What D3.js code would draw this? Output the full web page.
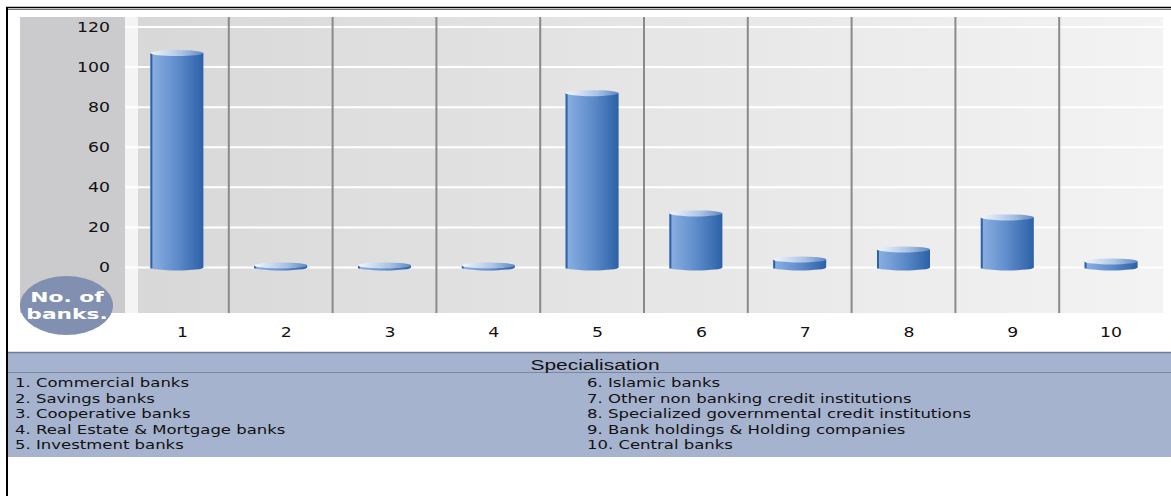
<!DOCTYPE html>
<html><head><meta charset="utf-8">
<script src="https://cdn.jsdelivr.net/npm/d3@7"></script>
<style>html,body{margin:0;padding:0;background:#fff;overflow:hidden}</style>
</head><body><div id="chart"></div>
<script>
const categories = ["1","2","3","4","5","6","7","8","9","10"];
const values = [107, 1, 1, 1, 87, 27, 4, 9, 25, 3];
const yTicks = [0, 20, 40, 60, 80, 100, 120];
const legendTitle = "Specialisation";
const legendLeft = ["1. Commercial banks","2. Savings banks","3. Cooperative banks","4. Real Estate & Mortgage banks","5. Investment banks"];
const legendRight = ["6. Islamic banks","7. Other non banking credit institutions","8. Specialized governmental credit institutions","9. Bank holdings & Holding companies","10. Central banks"];
const axisBadge = ["No. of","banks."];

(function(){
const W = 1171, H = 496;
const svg = d3.select("#chart").append("svg").attr("width", W).attr("height", H)
  .style("font-family", "'DejaVu Sans', Verdana, sans-serif");
svg.append("rect").attr("width", W).attr("height", H).attr("fill", "#fff");
const defs = svg.append("defs");

const bg = defs.append("linearGradient").attr("id","bg").attr("x1","0").attr("x2","1").attr("y1","0").attr("y2","0");
bg.append("stop").attr("offset","0").attr("stop-color","#d8d8d8");
bg.append("stop").attr("offset","1").attr("stop-color","#f3f3f3");
const bodyG = defs.append("linearGradient").attr("id","bodyG").attr("x1","0").attr("x2","1").attr("y1","0").attr("y2","0");
bodyG.append("stop").attr("offset","0").attr("stop-color","#8cb1e2");
bodyG.append("stop").attr("offset","0.5").attr("stop-color","#5f8ccb");
bodyG.append("stop").attr("offset","1").attr("stop-color","#2c61a7");
const topG = defs.append("linearGradient").attr("id","topG").attr("x1","0").attr("x2","1").attr("y1","0").attr("y2","0");
topG.append("stop").attr("offset","0").attr("stop-color","#f2f6fc");
topG.append("stop").attr("offset","0.6").attr("stop-color","#a9c2e4");
topG.append("stop").attr("offset","1").attr("stop-color","#5f88c4");

// frame lines
svg.append("line").attr("x1",6).attr("x2",W).attr("y1",7.5).attr("y2",7.5).attr("stroke","#000").attr("stroke-width",1.6);
svg.append("line").attr("x1",6).attr("x2",W).attr("y1",9.5).attr("y2",9.5).attr("stroke","#777").attr("stroke-width",1);
svg.append("line").attr("x1",7).attr("x2",7).attr("y1",7).attr("y2",H).attr("stroke","#000").attr("stroke-width",2);

const plotTop = 17, plotBottom = 313, xLeft = 125, xRight = 1163;
const x = d3.scaleBand().domain(categories).range([xLeft, xRight]).paddingInner(0).paddingOuter(0);
const y = d3.scaleLinear().domain([0, 120]).range([267.5, 27]);

// panels
svg.append("rect").attr("x",20).attr("y",plotTop).attr("width",105).attr("height",plotBottom-plotTop).attr("fill","#cbcbcd");
svg.append("rect").attr("x",125).attr("y",plotTop).attr("width",13).attr("height",plotBottom-plotTop).attr("fill","#f4f4f4");
svg.append("rect").attr("x",138).attr("y",plotTop).attr("width",xRight-138).attr("height",plotBottom-plotTop).attr("fill","url(#bg)");

// gridlines
svg.append("g").selectAll("line").data(yTicks).join("line")
  .attr("x1",xLeft).attr("x2",xRight).attr("y1",d=>y(d)).attr("y2",d=>y(d))
  .attr("stroke","#fff").attr("stroke-width",2);

// separators
svg.append("g").selectAll("line").data(categories.slice(1)).join("line")
  .attr("x1",d=>x(d)).attr("x2",d=>x(d)).attr("y1",plotTop).attr("y2",plotBottom)
  .attr("stroke","#8a8a8a").attr("stroke-width",2);

// y tick labels
const sx = 1.28;
svg.append("g").selectAll("text").data(yTicks).join("text")
  .attr("transform", d=>`translate(110,${y(d)}) scale(${sx},1)`)
  .attr("text-anchor","end").attr("dy","0.36em").attr("font-size",13.5).attr("fill","#111")
  .text(d=>d);

// x labels
svg.append("g").selectAll("text").data(categories).join("text")
  .attr("transform", d=>`translate(${x(d)+x.bandwidth()/2+11},337) scale(${sx},1)`)
  .attr("text-anchor","end").attr("font-size",13.5).attr("fill","#111")
  .text(d=>d);

// bars (cylinders)
const bw = 53, ry = 3;
const bars = svg.append("g").selectAll("g").data(values).join("g")
  .attr("transform",(d,i)=>`translate(${x(categories[i])+x.bandwidth()/2-bw/2},0)`);
bars.append("ellipse").attr("cx",bw/2).attr("cy",y(0)).attr("rx",bw/2).attr("ry",ry).attr("fill","url(#bodyG)");
bars.append("rect").attr("x",0).attr("y",d=>y(d)).attr("width",bw).attr("height",d=>y(0)-y(d)).attr("fill","url(#bodyG)");
bars.append("rect").attr("x",0).attr("y",d=>y(d)).attr("width",2).attr("height",d=>y(0)-y(d)+1).attr("fill","#2f62aa");
bars.append("ellipse").attr("cx",bw/2).attr("cy",d=>y(d)).attr("rx",bw/2).attr("ry",ry).attr("fill","url(#topG)");

// badge
svg.append("ellipse").attr("cx",66.5).attr("cy",305.5).attr("rx",46.5).attr("ry",29.5).attr("fill","#8190b0");
svg.append("g").selectAll("text").data(axisBadge).join("text")
  .attr("transform",(d,i)=>`translate(67,${302+i*17}) scale(1.5,1)`)
  .attr("text-anchor","middle").attr("font-size",14.5).attr("font-weight","bold").attr("fill","#fff")
  .text(d=>d);

// legend
svg.append("rect").attr("x",8).attr("y",352).attr("width",W-8).attr("height",105).attr("fill","#a6b3cf");
svg.append("line").attr("x1",8).attr("x2",W).attr("y1",352.5).attr("y2",352.5).attr("stroke","#6c7b9c").attr("stroke-width",1.5);
svg.append("line").attr("x1",8).attr("x2",W).attr("y1",372.5).attr("y2",372.5).attr("stroke","#7a88a8").attr("stroke-width",1);
svg.append("text").attr("transform","translate(595,370) scale(1.35,1)").attr("text-anchor","middle")
  .attr("font-family","'Liberation Sans', Arial, sans-serif").attr("font-size",15.5).attr("fill","#111").text(legendTitle);
const lsx = 1.32;
svg.append("g").selectAll("text").data(legendLeft).join("text")
  .attr("transform",(d,i)=>`translate(15,${387+i*15.5}) scale(${lsx},1)`)
  .attr("font-size",12.5).attr("fill","#111").text(d=>d);
svg.append("g").selectAll("text").data(legendRight).join("text")
  .attr("transform",(d,i)=>`translate(587,${387+i*15.5}) scale(${lsx},1)`)
  .attr("font-size",12.5).attr("fill","#111").text(d=>d);
})();
</script></body></html>
